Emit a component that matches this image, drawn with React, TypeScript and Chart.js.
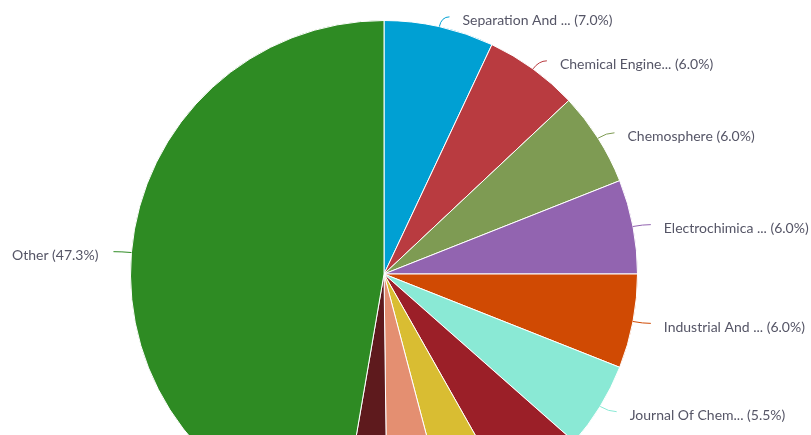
import React, { useEffect, useRef } from "react";
import { Chart, registerables } from "chart.js";

Chart.register(...registerables);

const categories = [
  "Separation And ...",
  "Chemical Engine...",
  "Chemosphere",
  "Electrochimica ...",
  "Industrial And ...",
  "Journal Of Chem...",
  "Journal Of Haza...",
  "Desalination",
  "Water Research",
  "Journal Of Clea...",
  "Other",
];

const shares = [7.0, 6.0, 6.0, 6.0, 6.0, 5.5, 5.3, 4.1, 3.9, 2.9, 47.3];

const sliceColors = [
  "#00a0d3",
  "#b93b40",
  "#7e9b53",
  "#9264b0",
  "#d04a03",
  "#8ae9d5",
  "#9b1f28",
  "#d9bd32",
  "#e48f71",
  "#5e1a1d",
  "#2e8b23",
];

const outerLabels = {
  id: "outerLabels",
  afterDatasetsDraw(chart: any) {
    const ctx = chart.ctx;
    const meta = chart.getDatasetMeta(0);
    const data = chart.data.datasets[0].data as number[];
    const total = data.reduce((a: number, b: number) => a + b, 0);
    ctx.save();
    ctx.font = "14px Lato, 'Open Sans', sans-serif";
    ctx.textBaseline = "middle";
    meta.data.forEach((arc: any, i: number) => {
      const mid = (arc.startAngle + arc.endAngle) / 2;
      const r = arc.outerRadius;
      const cos = Math.cos(mid);
      const sin = Math.sin(mid);
      const sign = cos >= 0 ? 1 : -1;
      const px = arc.x + cos * r;
      const py = arc.y + sin * r;
      const cx = arc.x + cos * (r + 10);
      const cy = arc.y + sin * (r + 10);
      const ex = cx + 8 * sign;
      const ey = cy;
      ctx.strokeStyle = sliceColors[i];
      ctx.lineWidth = 1;
      ctx.beginPath();
      ctx.moveTo(px, py);
      ctx.quadraticCurveTo(cx, cy, ex, ey);
      ctx.stroke();
      const pct = ((data[i] / total) * 100).toFixed(1);
      const text = `${chart.data.labels[i]} (${pct}%)`;
      ctx.fillStyle = "#555566";
      ctx.textAlign = sign > 0 ? "left" : "right";
      ctx.fillText(text, ex + (sign > 0 ? 13 : 15) * sign, ey + 4);
    });
    ctx.restore();
  },
};

export default function App() {
  const ref = useRef<HTMLCanvasElement | null>(null);
  useEffect(() => {
    if (!ref.current) return;
    const chart = new Chart(ref.current, {
      type: "pie",
      data: {
        labels: categories,
        datasets: [
          {
            data: shares,
            backgroundColor: sliceColors,
            borderColor: "#ffffff",
            borderWidth: 1,
          },
        ],
      },
      options: {
        responsive: false,
        animation: false,
        layout: { padding: { left: 0, right: 43, top: 20, bottom: 20 } },
        plugins: {
          legend: { display: false },
          tooltip: { enabled: false },
        },
      },
      plugins: [outerLabels],
    });
    return () => chart.destroy();
  }, []);
  return (
    <div style={{ position: "absolute", left: 0, top: 0, width: 811, height: 435, overflow: "hidden", background: "#fff" }}>
      <canvas ref={ref} width={811} height={548} />
    </div>
  );
}
